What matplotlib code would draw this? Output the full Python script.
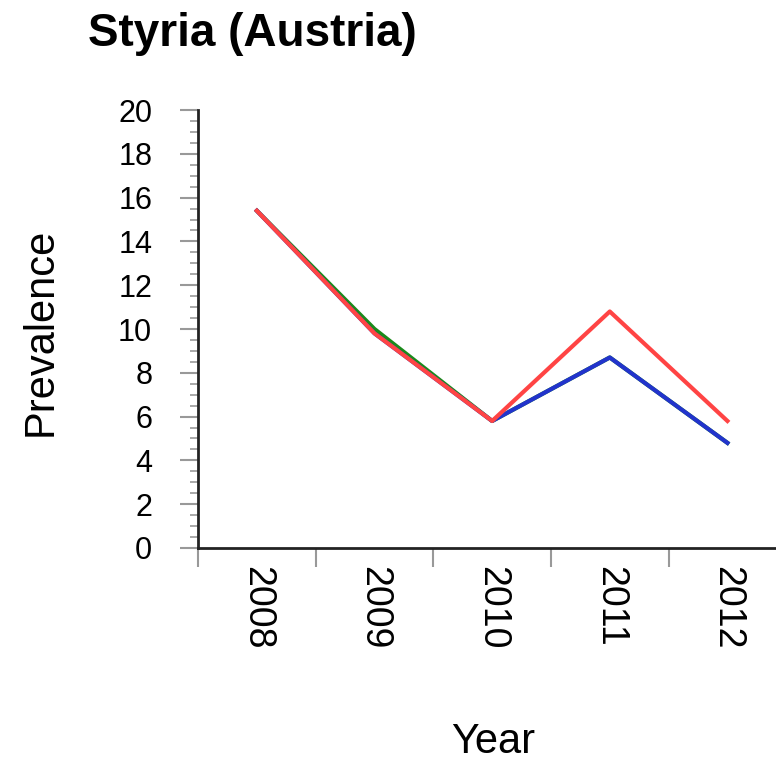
import matplotlib
matplotlib.use("Agg")
from matplotlib import pyplot as plt
import numpy as np

plt.rcParams['font.family'] = ['Liberation Sans', 'DejaVu Sans']

years = ['2008', '2009', '2010', '2011', '2012']
green = [15.4, 10.0, 5.8, 8.7, 4.8]
blue = [15.4, 9.8, 5.8, 8.7, 4.8]
red = [15.4, 9.8, 5.8, 10.8, 5.8]

fig = plt.figure(figsize=(7.76, 7.63), dpi=100)
ax = fig.add_axes([0.2552, 0.2818, 0.758, 0.574])

x = np.arange(len(years))
ax.plot(x, green, color='#1a8a1a', lw=3)
ax.plot(x, blue, color='#2233cc', lw=3)
ax.plot(x, red, color='#ff4444', lw=3)

ax.set_xlim(-0.5, len(years) - 0.5)
ax.set_ylim(0, 20)

# y axis
ax.set_yticks(np.arange(0, 21, 2))
ax.set_yticks(np.arange(0, 20.1, 0.5), minor=True)
ax.tick_params(axis='y', which='major', length=13, width=1.5, color='#999999',
               labelsize=22, pad=20)
ax.tick_params(axis='y', which='minor', length=6, width=1.2, color='#999999')

# x axis: ticks at boundaries, labels at centres
ax.set_xticks(np.arange(-0.5, len(years), 1.0))
ax.set_xticklabels([])
ax.set_xticks(x, minor=True)
ax.set_xticklabels(years, minor=True, rotation=-90, fontsize=27)
ax.tick_params(axis='x', which='major', length=14, width=1.5, color='#999999')
ax.tick_params(axis='x', which='minor', length=0, pad=13)

for s in ['top', 'right']:
    ax.spines[s].set_visible(False)
for s in ['left', 'bottom']:
    ax.spines[s].set_linewidth(2)
    ax.spines[s].set_color('#222222')

fig.text(0.113, 0.955, 'Styria (Austria)', fontsize=33, fontweight='bold',
         ha='left', va='center')
fig.text(0.052, 0.565, 'Prevalence', fontsize=30, rotation=90,
         ha='center', va='center')
fig.text(0.635, 0.027, 'Year', fontsize=30, ha='center', va='center')

fig.savefig('out.png', dpi=100)
